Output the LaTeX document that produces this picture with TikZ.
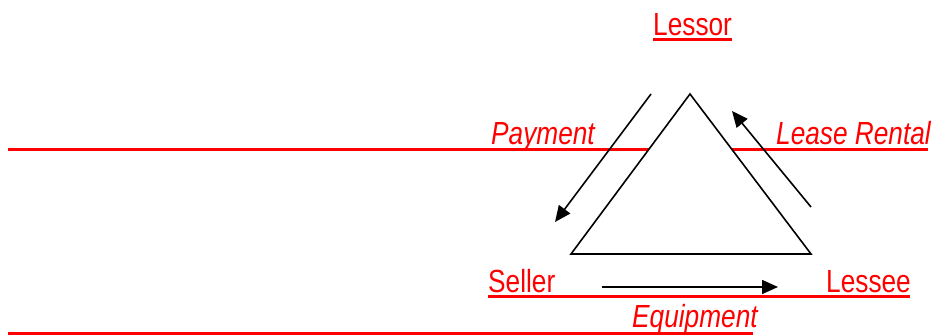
\documentclass[tikz,border=0pt]{standalone}
\usepackage{fontspec}
\setmainfont{Liberation Sans}[FakeStretch=0.82]
\usetikzlibrary{arrows.meta}
\definecolor{lred}{RGB}{255,0,0}
\tikzset{
  party/.style={text=lred, anchor=base west, inner sep=0pt, font=\fontsize{32}{38}\selectfont},
  flow/.style={text=lred, anchor=base west, inner sep=0pt, font=\fontsize{32}{38}\selectfont\itshape},
  rule/.style={draw=lred, line width=3pt},
  edge/.style={draw=black, line width=1.6pt},
  move/.style={draw=black, line width=1.6pt, -{Triangle[length=16pt,width=14pt]}}
}
\begin{document}
\begin{tikzpicture}[x=1pt, y=-1pt]
  \useasboundingbox (0,0) rectangle (934,336);

  % labels
  \node[party] (lessor) at (653,36) {Lessor};
  \node[flow] (payment) at (491,145) {Payment};
  \node[flow] (rental) at (776,145) {Lease Rental};
  \node[party] (seller) at (488,293) {Seller};
  \node[party] (lessee) at (826,293) {Lessee};
  \node[flow] (equip) at (632,328) {Equipment};

  % underlines
  \coordinate (u1a) at (653,39.5); \coordinate (u1b) at (732,39.5);
  \coordinate (u2a) at (8,150);    \coordinate (u2b) at (928,150);
  \coordinate (u3a) at (488,297);  \coordinate (u3b) at (910,297);
  \coordinate (u4a) at (8,334);    \coordinate (u4b) at (753,334);
  \draw[rule, line width=2.5pt] (u1a) -- (u1b);
  \draw[rule] (u2a) -- (u2b);
  \draw[rule] (u3a) -- (u3b);
  \draw[rule] (u4a) -- (u4b);

  % triangle
  \coordinate (top) at (690,94);
  \coordinate (bl) at (571,254);
  \coordinate (br) at (811,254);
  \filldraw[edge, fill=white, line join=miter] (top) -- (br) -- (bl) -- cycle;

  % flows
  \coordinate (p1) at (651,94);  \coordinate (p2) at (555,222);
  \coordinate (r1) at (811,207); \coordinate (r2) at (732,111);
  \coordinate (e1) at (602,287); \coordinate (e2) at (778,287);
  \draw[move] (p1) -- (p2);
  \draw[move] (r1) -- (r2);
  \draw[move] (e1) -- (e2);
\end{tikzpicture}
\end{document}
